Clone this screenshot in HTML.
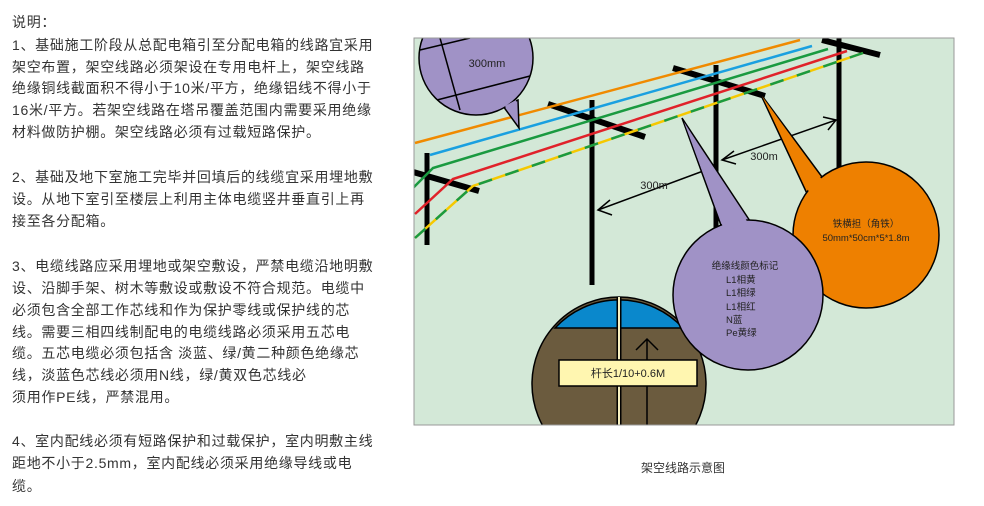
<!DOCTYPE html>
<html><head><meta charset="utf-8"><style>
body{margin:0;width:984px;height:506px;background:#fff;position:relative;overflow:hidden;font-family:"Liberation Sans","Noto Sans CJK SC",sans-serif;}
.t{position:absolute;left:12px;font-size:14px;color:#333;white-space:nowrap;line-height:16px;letter-spacing:0.7px}
svg{position:absolute;left:0;top:0}
</style></head><body>
<div class="t" style="top:14px">说明：</div>
<div class="t" style="top:37px">1、基础施工阶段从总配电箱引至分配电箱的线路宜采用</div>
<div class="t" style="top:59px">架空布置，架空线路必须架设在专用电杆上，架空线路</div>
<div class="t" style="top:80px">绝缘铜线截面积不得小于10米/平方，绝缘铝线不得小于</div>
<div class="t" style="top:102px">16米/平方。若架空线路在塔吊覆盖范围内需要采用绝缘</div>
<div class="t" style="top:124px">材料做防护棚。架空线路必须有过载短路保护。</div>
<div class="t" style="top:169px">2、基础及地下室施工完毕并回填后的线缆宜采用埋地敷</div>
<div class="t" style="top:191px">设。从地下室引至楼层上利用主体电缆竖井垂直引上再</div>
<div class="t" style="top:213px">接至各分配箱。</div>
<div class="t" style="top:258px">3、电缆线路应采用埋地或架空敷设，严禁电缆沿地明敷</div>
<div class="t" style="top:280px">设、沿脚手架、树木等敷设或敷设不符合规范。电缆中</div>
<div class="t" style="top:302px">必须包含全部工作芯线和作为保护零线或保护线的芯</div>
<div class="t" style="top:324px">线。需要三相四线制配电的电缆线路必须采用五芯电</div>
<div class="t" style="top:345px">缆。五芯电缆必须包括含 淡蓝、绿/黄二种颜色绝缘芯</div>
<div class="t" style="top:367px">线，淡蓝色芯线必须用N线，绿/黄双色芯线必</div>
<div class="t" style="top:389px">须用作PE线，严禁混用。</div>
<div class="t" style="top:433px">4、室内配线必须有短路保护和过载保护，室内明敷主线</div>
<div class="t" style="top:455px">距地不小于2.5mm，室内配线必须采用绝缘导线或电</div>
<div class="t" style="top:478px">缆。</div>

<svg width="984" height="506" viewBox="0 0 984 506" font-family="Liberation Sans, Noto Sans CJK SC, sans-serif">
<defs><clipPath id="c"><rect x="414" y="38" width="540" height="387"/></clipPath></defs>
<rect x="414" y="38" width="540" height="387" fill="#d3e8d7"/>
<g clip-path="url(#c)">
 <g stroke="#000" stroke-width="5">
  <line x1="427" y1="153" x2="427" y2="245"/>
  <line x1="592" y1="100" x2="592" y2="285"/>
  <line x1="716" y1="65" x2="716" y2="235"/>
  <line x1="839" y1="38" x2="839" y2="180"/>
 </g>
 <g stroke="#000" stroke-width="6">
  <line x1="413" y1="172" x2="479" y2="191"/>
  <line x1="548" y1="104" x2="645" y2="137"/>
  <line x1="673" y1="68" x2="765" y2="96"/>
  <line x1="822" y1="40" x2="880" y2="55"/>
 </g>
 <g stroke-width="2.5" fill="none">
  <line x1="415" y1="143" x2="800" y2="40" stroke="#f08a00"/>
  <line x1="430" y1="155" x2="812" y2="46" stroke="#1aa0e0"/>
  <polyline points="413,188 433,168 828,49" stroke="#1a9a40"/>
  <polyline points="415,214 453,179 847,51" stroke="#e0222a"/>
  <polyline points="415,238 473,186 863,53" stroke="#f5c800"/>
  <polyline points="415,238 473,186 863,53" stroke="#1a9a40" stroke-dasharray="14 14"/>
 </g>
 <g stroke="#000" stroke-width="1.5" fill="none">
  <line x1="598" y1="210" x2="714" y2="167"/>
  <polyline points="610,200 598,210 612,215"/>
  <polyline points="702,165 714,167 706,176"/>
  <line x1="722" y1="160" x2="836" y2="120"/>
  <polyline points="734,151 722,160 736,164"/>
  <polyline points="823,117 836,120 828,130"/>
 </g>
 <text x="654" y="189" font-size="11" fill="#222" text-anchor="middle">300m</text>
 <text x="764" y="160" font-size="11" fill="#222" text-anchor="middle">300m</text>
 <path d="M503,106 L519,128 L518,100 Z" fill="#a092c6" stroke="#000" stroke-width="1.5"/>
 <circle cx="476" cy="58" r="57" fill="#a092c6" stroke="#000" stroke-width="1.5"/>
 <path d="M505,106 L518,125 L516,100 Z" fill="#a092c6"/>
 <g stroke="#000" stroke-width="1.5"><line x1="420" y1="50" x2="470" y2="38"/><line x1="437" y1="100" x2="530" y2="76"/><line x1="440" y1="38" x2="460" y2="110"/></g>
 <text x="487" y="67" font-size="11" fill="#222" text-anchor="middle">300mm</text>
 <path d="M760,93 L828,185 L810,200 Z" fill="#ee8000" stroke="#000" stroke-width="1.5"/>
 <circle cx="866" cy="235" r="73" fill="#ee8000" stroke="#000" stroke-width="1.5"/>
 <path d="M762,96 L828,188 L812,198 Z" fill="#ee8000"/>
 <text x="866" y="227" font-size="9.5" fill="#222" text-anchor="middle">铁横担（角铁）</text>
 <text x="866" y="241" font-size="9.5" fill="#222" text-anchor="middle">50mm*50cm*5*1.8m</text>
 <circle cx="619" cy="384" r="87" fill="#6b5b3e" stroke="#000" stroke-width="1.5"/>
 <path d="M555,328 A87,87 0 0 1 683,328 Z" fill="#0a88cc" stroke="#000" stroke-width="1.5"/>
 <line x1="619" y1="297" x2="619" y2="430" stroke="#000" stroke-width="5"/>
 <line x1="619" y1="297" x2="619" y2="430" stroke="#f7f0c0" stroke-width="2"/>
 <g stroke="#000" stroke-width="1.5" fill="none"><line x1="647" y1="340" x2="647" y2="430"/><polyline points="636,350 647,339 658,350"/></g>
 <rect x="559" y="360" width="138" height="26" fill="#fff6b0" stroke="#000" stroke-width="1.5"/>
 <text x="628" y="377" font-size="11" fill="#222" text-anchor="middle">杆长1/10+0.6M</text>
 <path d="M682,118 L722,228 L752,224 Z" fill="#a092c6" stroke="#000" stroke-width="1.5"/>
 <circle cx="748" cy="295" r="75" fill="#a092c6" stroke="#000" stroke-width="1.5"/>
 <path d="M684,122 L724,230 L750,226 Z" fill="#a092c6"/>
 <g font-size="9.5" fill="#222"><text x="745" y="269" text-anchor="middle">绝缘线颜色标记</text>
 <text x="726" y="283">L1相黄</text><text x="726" y="296">L1相绿</text><text x="726" y="310">L1相红</text><text x="726" y="323">N蓝</text><text x="726" y="336">Pe黄绿</text></g>
</g>
<rect x="414" y="38" width="540" height="387" fill="none" stroke="#999" stroke-width="1"/>
<text x="683" y="472" font-size="12" fill="#333" text-anchor="middle">架空线路示意图</text>
</svg>
</body></html>
